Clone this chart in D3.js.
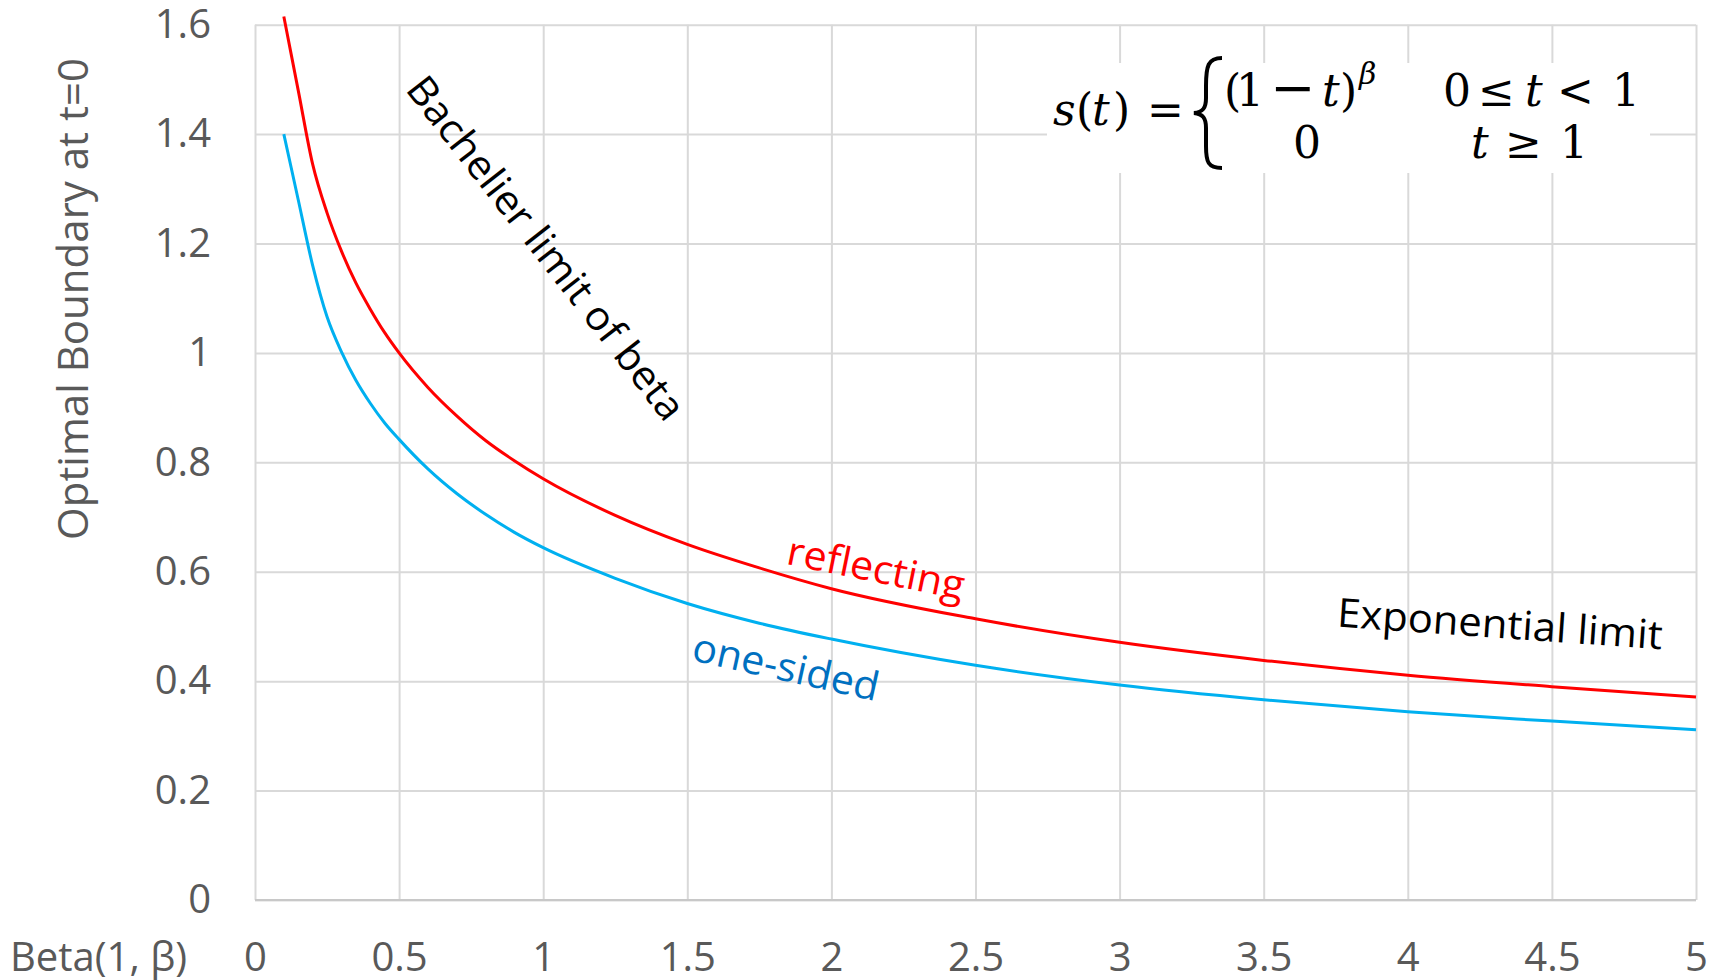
<!DOCTYPE html>
<html>
<head>
<meta charset="utf-8">
<script src="https://cdn.jsdelivr.net/npm/d3@7"></script>
<style>
    html, body { margin: 0; padding: 0; background: #ffffff; }
    svg { display: block; }
</style>
</head>
<body>
<svg id="chart" width="1720" height="980" font-family="'Open Sans', 'Noto Sans', sans-serif"></svg>
<script>
// shape parameter of Beta(1, beta)
let betas = [0.1, 0.15, 0.2, 0.25, 0.3, 0.35, 0.4, 0.45, 0.5, 0.6, 0.7, 0.8, 0.9, 1.0,
    1.25, 1.5, 1.75, 2, 2.5, 3, 3.5, 4, 4.5, 5];
// optimal boundary at t=0
let reflecting = [1.615, 1.48, 1.345, 1.256, 1.186, 1.128, 1.080, 1.037, 1.0, 0.937, 0.885, 0.840, 0.803, 0.770,
    0.703, 0.650, 0.607, 0.569, 0.514, 0.471, 0.438, 0.411, 0.390, 0.371];
let oneSided = [1.40, 1.28, 1.16, 1.066, 1.002, 0.95, 0.908, 0.872, 0.842, 0.788, 0.743, 0.705, 0.672, 0.644,
    0.588, 0.542, 0.506, 0.477, 0.429, 0.393, 0.366, 0.344, 0.327, 0.311];

let xTicks = [0, 0.5, 1, 1.5, 2, 2.5, 3, 3.5, 4, 4.5, 5];
let yTicks = [0, 0.2, 0.4, 0.6, 0.8, 1, 1.2, 1.4, 1.6];

let plotLeft = 255, plotRight = 1696, plotTop = 24.7, plotBottom = 900;
let grey = '#595959', gridColor = '#d9d9d9';

let svg = d3.select('#chart');

let x = d3.scaleLinear().domain([0, 5]).range([plotLeft, plotRight]);
let y = d3.scaleLinear().domain([0, 1.6]).range([plotBottom, plotTop]);

// horizontal gridlines + y labels
let yAxis = svg.append('g')
    .attr('transform', 'translate(' + plotLeft + ',0)')
    .call(d3.axisLeft(y)
        .tickValues(yTicks)
        .tickSize(-(plotRight - plotLeft))
        .tickPadding(44)
        .tickFormat(d3.format('~g')));
yAxis.select('.domain').remove();
yAxis.selectAll('.tick line').attr('stroke', gridColor).attr('stroke-width', 2);
yAxis.selectAll('.tick text')
    .attr('fill', grey)
    .attr('font-size', 40)
    .attr('font-family', '"Open Sans", sans-serif');

// vertical gridlines + x labels
let xAxis = svg.append('g')
    .attr('transform', 'translate(0,' + plotBottom + ')')
    .call(d3.axisBottom(x)
        .tickValues(xTicks)
        .tickSize(-(plotBottom - plotTop))
        .tickPadding(43)
        .tickFormat(d3.format('~g')));
xAxis.select('.domain').remove();
xAxis.selectAll('.tick line').attr('stroke', gridColor).attr('stroke-width', 2);
xAxis.selectAll('.tick text')
    .attr('fill', grey)
    .attr('font-size', 40)
    .attr('font-family', '"Open Sans", sans-serif');

// bottom axis line
svg.append('line')
    .attr('x1', plotLeft).attr('x2', plotRight)
    .attr('y1', y(0)).attr('y2', y(0))
    .attr('stroke', '#c8c8c8')
    .attr('stroke-width', 2);

svg.append('text')
    .attr('x', 10)
    .attr('y', 971)
    .attr('fill', grey)
    .attr('font-size', 40)
    .text('Beta(1, β)');

svg.append('text')
    .attr('transform', 'translate(88,299) rotate(-90)')
    .attr('text-anchor', 'middle')
    .attr('fill', grey)
    .attr('font-size', 42)
    .text('Optimal Boundary at t=0');

// curves
let line = d3.line()
    .x((d, i) => x(betas[i]))
    .y(d => y(d))
    .curve(d3.curveMonotoneX);

svg.append('path')
    .datum(oneSided)
    .attr('d', line)
    .attr('fill', 'none')
    .attr('stroke', '#00b0f0')
    .attr('stroke-width', 3);

svg.append('path')
    .datum(reflecting)
    .attr('d', line)
    .attr('fill', 'none')
    .attr('stroke', '#ff0000')
    .attr('stroke-width', 3);

// annotations
function label(txt, cx, cy, angle, color, size, len) {
    svg.append('text')
        .attr('transform', 'translate(' + cx + ',' + cy + ') rotate(' + angle + ')')
        .attr('text-anchor', 'middle')
        .attr('dy', '0.35em')
        .attr('fill', color)
        .attr('font-size', size)
        .attr('textLength', len)
        .attr('lengthAdjust', 'spacingAndGlyphs')
        .text(txt);
}
label('Bachelier limit of beta', 546, 248, 52, '#000000', 40, 424);
label('reflecting', 876, 568, 11.5, '#ff0000', 40, 180);
label('one-sided', 786, 667, 12.5, '#0070c0', 40, 190);
label('Exponential limit', 1500, 624, 4, '#000000', 40, 326);

// formula box
let eq = svg.append('g');
eq.append('rect')
    .attr('x', 1047).attr('y', 63)
    .attr('width', 603).attr('height', 110)
    .attr('fill', '#ffffff');

let serif = '"DejaVu Serif", "Liberation Serif", serif';

// each piece: [text, x, italic, optional size]
function mathRow(pieces, baseline, size) {
    let t = eq.append('text')
        .attr('y', baseline)
        .attr('font-family', serif)
        .attr('font-size', size)
        .attr('fill', '#000000');
    pieces.forEach(p => {
        let s = t.append('tspan')
            .attr('x', p[1])
            .attr('font-style', p[2] ? 'italic' : 'normal')
            .text(p[0]);
        if (p[3]) s.attr('font-size', p[3]);
    });
}

mathRow([['s', 1053, true], ['(', 1076, false], ['t', 1092, true], [')', 1113, false], ['=', 1147, false]], 125, 44);

// curly brace
eq.append('path')
    .attr('d', 'M1222,58 C1208,58 1206,66 1206,86 L1206,98 C1206,108 1203,112 1194,113 ' +
        'C1203,114 1206,118 1206,128 L1206,146 C1206,162 1208,168 1222,168')
    .attr('fill', 'none')
    .attr('stroke', '#000000')
    .attr('stroke-width', 4);

mathRow([['(', 1224, false], ['1', 1236, false], ['−', 1270, false, 54], ['t', 1322, true], [')', 1340, false]], 106, 44);
mathRow([['β', 1359, true]], 84, 30);
mathRow([['0', 1443, false], ['≤', 1478, false], ['t', 1525, true], ['<', 1557, false], ['1', 1612, false]], 106, 44);
mathRow([['0', 1293, false], ['t', 1471, true], ['≥', 1505, false], ['1', 1560, false]], 158, 44);
</script>
</body>
</html>
